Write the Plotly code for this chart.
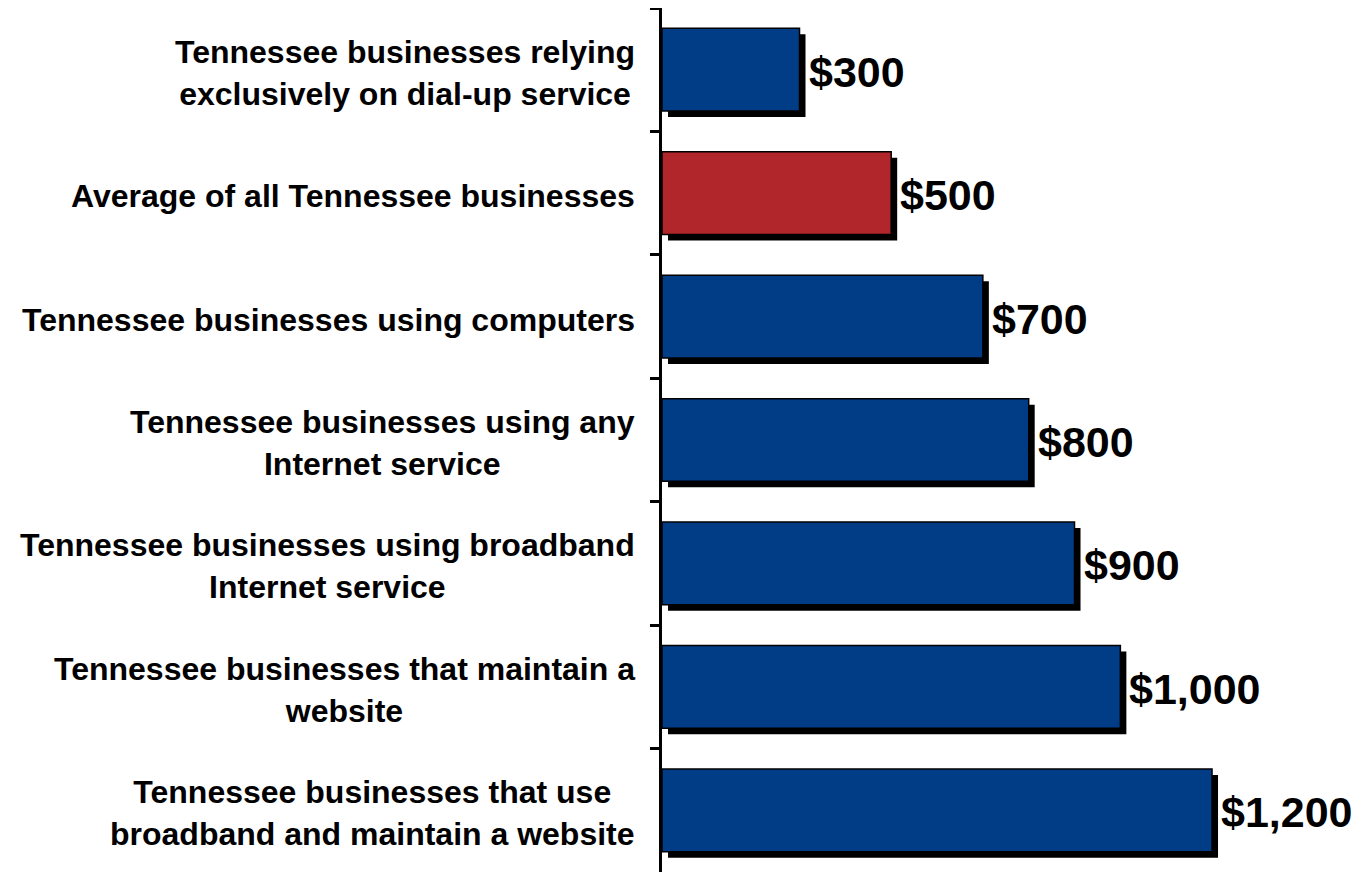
import plotly.graph_objects as go

categories = [
    "Tennessee businesses relying<br>exclusively on dial-up service",
    "Average of all Tennessee businesses",
    "Tennessee businesses using computers",
    "Tennessee businesses using any<br>Internet service",
    "Tennessee businesses using broadband<br>Internet service",
    "Tennessee businesses that maintain a<br>website",
    "Tennessee businesses that use<br>broadband and maintain a website",
]
values = [300, 500, 700, 800, 900, 1000, 1200]
bar_colors = ["#003D86", "#B0262A", "#003D86", "#003D86", "#003D86", "#003D86", "#003D86"]

# page has an 8px body margin, so the figure is 8px smaller
W, H = 1364, 864
L, R, T, B = 654, 0, 0, 0
pw, ph = W - L - R, H - T - B
xmax = 1549
n = len(categories)
shadow_px = 6
dx = shadow_px * xmax / pw          # shadow shift expressed in axis units
dy = shadow_px * n / ph
FONT = "Liberation Sans, Arial, sans-serif"

fig = go.Figure()
# shadow (drawn first, in lower subplot)
fig.add_trace(go.Bar(
    x=values, y=categories, orientation="h", width=0.67,
    marker=dict(color="#000000", line=dict(width=0)),
    xaxis="x", yaxis="y", hoverinfo="skip", showlegend=False,
))
# main bars
fig.add_trace(go.Bar(
    x=values, y=categories, orientation="h", width=0.67,
    marker=dict(color=bar_colors, line=dict(width=1.5, color="#000000")),
    xaxis="x2", yaxis="y2", showlegend=False,
))

for c, v in zip(categories, values):
    fig.add_annotation(
        x=-25 / pw, xref="paper", xanchor="right",
        y=c, yref="y2", yanchor="middle", yshift=-3,
        text=c, align="center", showarrow=False,
        font=dict(family=FONT, size=32, color="#000000", weight="bold"),
    )
    fig.add_annotation(
        x=v, xref="x2", xanchor="left", xshift=7,
        y=c, yref="y2", yanchor="middle", yshift=-2,
        text=f"${v:,}", showarrow=False,
        font=dict(family=FONT, size=43, color="#000000", weight="bold"),
    )

fig.update_layout(
    width=W, height=H,
    margin=dict(l=L, r=R, t=T, b=B, pad=0),
    paper_bgcolor="white", plot_bgcolor="rgba(0,0,0,0)",
    xaxis=dict(domain=[0, 1], range=[-dx, xmax - dx], visible=False),
    yaxis=dict(domain=[0, 1], anchor="x", range=[n - 0.5 - dy, -0.5 - dy], visible=False),
    xaxis2=dict(domain=[0, 1], range=[0, xmax], anchor="y2", visible=False),
    yaxis2=dict(domain=[0, 1], anchor="x2", range=[n - 0.5, -0.5],
                showline=True, linecolor="#000000", linewidth=3,
                ticks="outside", tickson="boundaries", ticklen=9, tickwidth=3,
                tickcolor="#000000", showticklabels=False, showgrid=False,
                zeroline=False),
)

fig.write_html("out.html")
